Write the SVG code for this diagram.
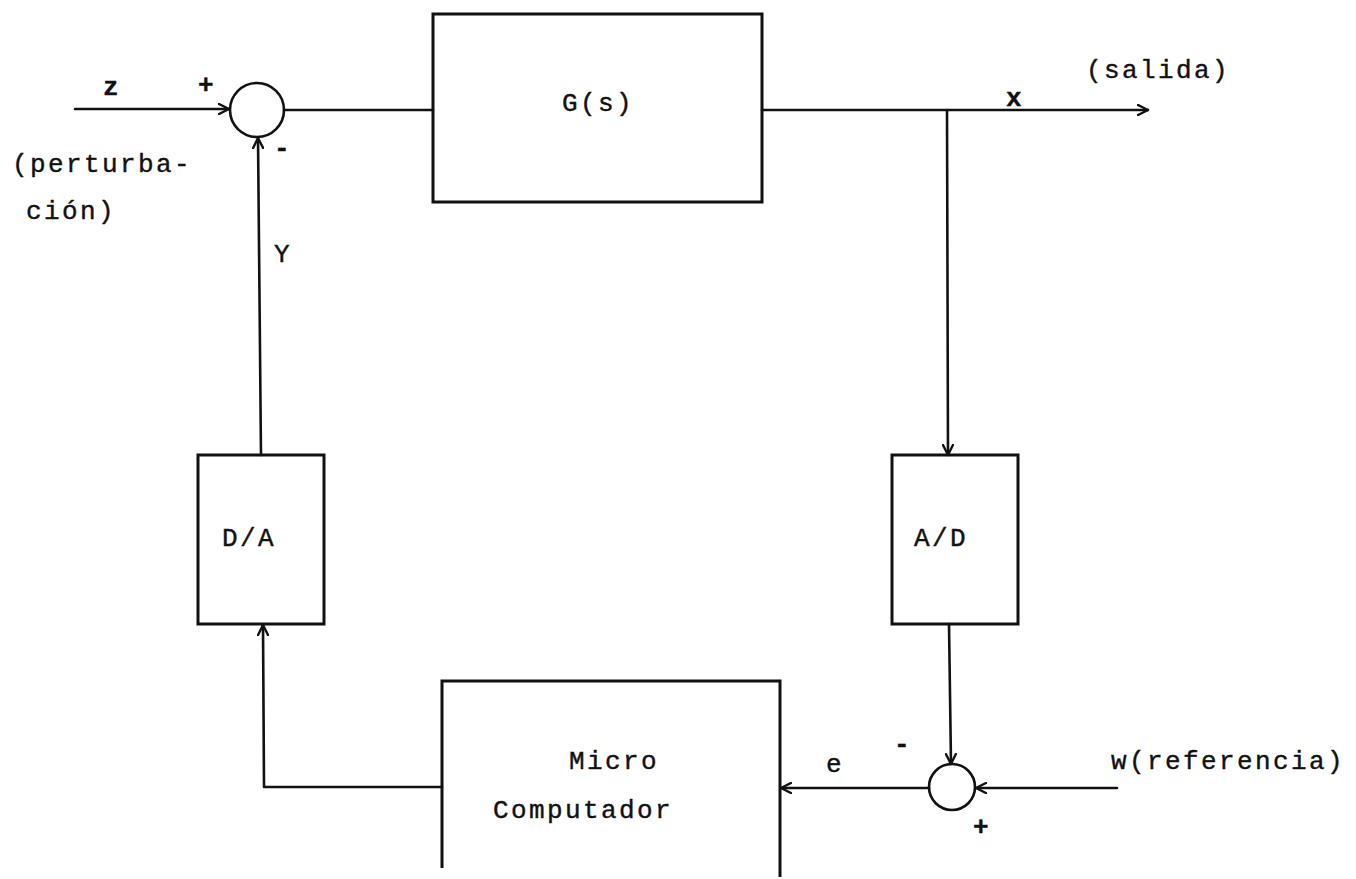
<svg xmlns="http://www.w3.org/2000/svg" width="1356" height="879" viewBox="0 0 1356 879">
<style>
.ln{fill:none;stroke:#111;stroke-width:2.6;stroke-linecap:round;stroke-linejoin:round}
.bx{fill:none;stroke:#111;stroke-width:3}
.t{font-family:"Liberation Mono","DejaVu Sans Mono",monospace;font-size:26px;fill:#111;stroke:#111;stroke-width:0.4;letter-spacing:2.4px}
.c{text-anchor:middle}
</style>
<defs>
<marker id="ah" viewBox="0 0 12 12" refX="11" refY="6" markerWidth="12" markerHeight="12" markerUnits="userSpaceOnUse" orient="auto">
<path d="M1,1 L11,6 L1,11" fill="none" stroke="#111" stroke-width="2.4" stroke-linecap="round" stroke-linejoin="round"/>
</marker>
</defs>
<rect width="1356" height="879" fill="#fff"/>

<g id="sum1">
<circle cx="257" cy="110" r="27" class="ln" stroke-width="3"/>
<text x="207" y="93" class="t c" font-weight="bold">+</text>
<text x="283" y="156" class="t c" font-weight="bold">-</text>
</g>

<g id="G">
<rect x="433" y="14" width="329" height="188" class="bx"/>
<text x="598" y="111" class="t c">G(s)</text>
</g>

<g id="DA">
<rect x="198" y="455" width="126" height="169" class="bx"/>
<text x="249" y="546" class="t c">D/A</text>
</g>

<g id="AD">
<rect x="892" y="455" width="126" height="169" class="bx"/>
<text x="941" y="546" class="t c">A/D</text>
</g>

<g id="micro">
<path d="M442,868 V681 H780 V877" class="bx"/>
<text x="614" y="769" class="t c">Micro</text>
<text x="583" y="818" class="t c">Computador</text>
</g>

<g id="sum2">
<circle cx="952" cy="787" r="23" class="ln" stroke-width="3"/>
<text x="903" y="752" class="t c" font-weight="bold">-</text>
<text x="982" y="835" class="t c" font-weight="bold">+</text>
</g>

<g id="connectors">
<line x1="75" y1="109" x2="229" y2="109" class="ln" marker-end="url(#ah)"/>
<line x1="284" y1="110" x2="433" y2="110" class="ln"/>
<line x1="762" y1="110" x2="1148" y2="110" class="ln" marker-end="url(#ah)"/>
<line x1="947" y1="110" x2="948" y2="455" class="ln" marker-end="url(#ah)"/>
<line x1="949" y1="624" x2="951" y2="764" class="ln" marker-end="url(#ah)"/>
<line x1="1117" y1="788" x2="976" y2="788" class="ln" marker-end="url(#ah)"/>
<line x1="929" y1="788" x2="781" y2="788" class="ln" marker-end="url(#ah)"/>
<polyline points="442,787 264,787 263,625" class="ln" marker-end="url(#ah)"/>
<line x1="261" y1="455" x2="258" y2="138" class="ln" marker-end="url(#ah)"/>
</g>

<g id="labels">
<text x="112" y="95" class="t c" font-weight="bold">z</text>
<text x="1015" y="106" class="t c" font-weight="bold">x</text>
<text x="1158" y="78" class="t c">(salida)</text>
<text x="12" y="172" class="t">(perturba-</text>
<text x="26" y="219" class="t">ción)</text>
<text x="283" y="262" class="t c">Y</text>
<text x="835" y="772" class="t c">e</text>
<text x="1228" y="769" class="t c">w(referencia)</text>
</g>
</svg>
